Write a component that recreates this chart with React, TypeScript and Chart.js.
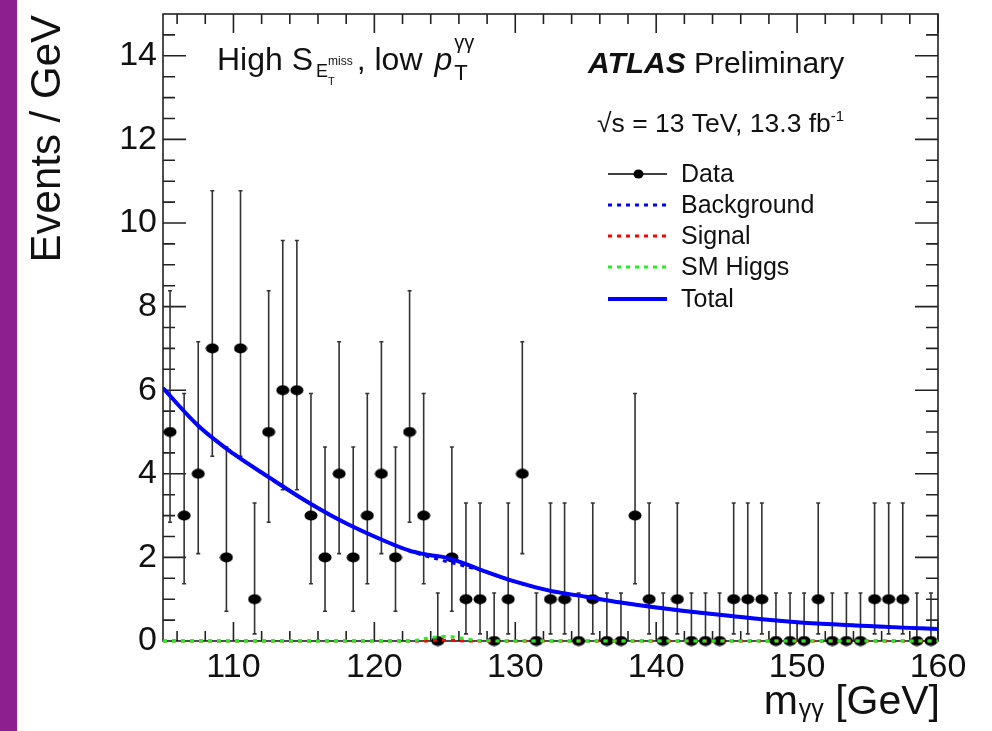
import React, { useEffect, useRef } from "react";
import { Chart, registerables } from "chart.js";

Chart.register(...registerables);

const FONT = '"Liberation Sans", Arial, Helvetica, sans-serif';

// ---- data ----
const binCenters = [
  105.5, 106.5, 107.5, 108.5, 109.5, 110.5, 111.5, 112.5, 113.5, 114.5,
  115.5, 116.5, 117.5, 118.5, 119.5, 120.5, 121.5, 122.5, 123.5, 124.5,
  125.5, 126.5, 127.5, 128.5, 129.5, 130.5, 131.5, 132.5, 133.5, 134.5,
  135.5, 136.5, 137.5, 138.5, 139.5, 140.5, 141.5, 142.5, 143.5, 144.5,
  145.5, 146.5, 147.5, 148.5, 149.5, 150.5, 151.5, 152.5, 153.5, 154.5,
  155.5, 156.5, 157.5, 158.5, 159.5,
];
const counts = [
  5, 3, 4, 7, 2, 7, 1, 5, 6, 6,
  3, 2, 4, 2, 3, 4, 2, 5, 3, 0,
  2, 1, 1, 0, 1, 4, 0, 1, 1, 0,
  1, 0, 0, 3, 1, 0, 1, 0, 0, 0,
  1, 1, 1, 0, 0, 0, 1, 0, 0, 0,
  1, 1, 1, 0, 0,
];
// error bar ends by event count (0..7)
const poissonLow = [0, 0.17, 0.71, 1.37, 2.09, 2.84, 3.62, 4.42];
const poissonHigh = [1.15, 3.3, 4.64, 5.92, 7.16, 8.38, 9.58, 10.77];

const curveX = [
  105, 107.5, 110, 112.5, 115, 117.5, 120, 122.5, 123.5, 124, 124.5, 125,
  125.5, 126, 126.5, 127.5, 130, 132.5, 135, 137.5, 140, 142.5, 145, 147.5,
  150, 152.5, 155, 157.5, 160,
];
const backgroundY = [
  6.05, 5.15, 4.48, 3.92, 3.38, 2.9, 2.5, 2.15, 2.05, 2.0, 1.96, 1.91,
  1.87, 1.83, 1.78, 1.7, 1.42, 1.2, 1.06, 0.92, 0.8, 0.7, 0.61, 0.52,
  0.45, 0.4, 0.36, 0.32, 0.29,
];
const signalY = [
  0, 0, 0, 0, 0, 0, 0, 0, 0, 0.01, 0.02, 0.02,
  0.02, 0.01, 0, 0, 0, 0, 0, 0, 0, 0, 0, 0,
  0, 0, 0, 0, 0,
];
const higgsY = [
  0, 0, 0, 0, 0, 0, 0, 0, 0.05, 0.08, 0.1, 0.11,
  0.1, 0.08, 0.05, 0.01, 0, 0, 0, 0, 0, 0, 0, 0,
  0, 0, 0, 0, 0,
];
const totalY = [
  6.05, 5.15, 4.48, 3.92, 3.38, 2.9, 2.5, 2.16, 2.08, 2.05, 2.03, 2.0,
  1.96, 1.9, 1.84, 1.71, 1.42, 1.2, 1.06, 0.92, 0.8, 0.7, 0.61, 0.52,
  0.45, 0.4, 0.36, 0.32, 0.29,
];

const xTicks = [110, 120, 130, 140, 150, 160];
const yTicks = [0, 2, 4, 6, 8, 10, 12, 14];
const legendLabels = ["Data", "Background", "Signal", "SM Higgs", "Total"];

const BLUE = "#0000ff";
const RED = "#ff0000";
const GREEN = "#22ee22";

type Part = {
  t: string;
  size: number;
  dy?: number;
  dx?: number;
  style?: string;
  weight?: string;
  stack?: boolean;
};

function drawRich(ctx: CanvasRenderingContext2D, parts: Part[], x: number, y: number, draw = true) {
  let cx = x;
  let stackW = 0;
  for (const p of parts) {
    ctx.font = `${p.style || "normal"} ${p.weight || "normal"} ${p.size}px ${FONT}`;
    cx += p.dx || 0;
    if (draw) ctx.fillText(p.t, cx, y + (p.dy || 0));
    const w = ctx.measureText(p.t).width;
    if (p.stack) {
      stackW = Math.max(stackW, w);
    } else {
      cx += Math.max(w, stackW);
      stackW = 0;
    }
  }
  return cx - x;
}

function makeMarker(w: number, h: number) {
  const c = document.createElement("canvas");
  c.width = w;
  c.height = h;
  const g = c.getContext("2d")!;
  g.fillStyle = "#000";
  g.beginPath();
  g.ellipse(w / 2, h / 2, w / 2 - 0.5, h / 2 - 0.5, 0, 0, Math.PI * 2);
  g.fill();
  return c;
}

const rootPlugin = {
  id: "rootStyle",
  beforeDatasetsDraw(chart: any) {
    const ctx: CanvasRenderingContext2D = chart.ctx;
    const xs = chart.scales.x;
    const ys = chart.scales.y;
    const a = chart.chartArea;
    ctx.save();
    // frame
    ctx.strokeStyle = "#222";
    ctx.lineWidth = 1.6;
    ctx.strokeRect(a.left, a.top, a.right - a.left, a.bottom - a.top);
    // ticks
    ctx.beginPath();
    for (let v = 106; v <= 160; v += 2) {
      const px = xs.getPixelForValue(v);
      const L = xTicks.includes(v) ? 19 : 10;
      ctx.moveTo(px, a.bottom);
      ctx.lineTo(px, a.bottom - L);
      ctx.moveTo(px, a.top);
      ctx.lineTo(px, a.top + L);
    }
    for (let v = 0.5; v < 15; v += 0.5) {
      const py = ys.getPixelForValue(v);
      const L = yTicks.includes(v) ? 23 : 12;
      ctx.moveTo(a.left, py);
      ctx.lineTo(a.left + L, py);
      ctx.moveTo(a.right, py);
      ctx.lineTo(a.right - L, py);
    }
    ctx.stroke();

    // error bars
    ctx.strokeStyle = "#333";
    ctx.lineWidth = 1.6;
    binCenters.forEach((bx, i) => {
      const n = counts[i];
      const px = xs.getPixelForValue(bx);
      const y1 = ys.getPixelForValue(poissonLow[n]);
      const y2 = ys.getPixelForValue(poissonHigh[n]);
      ctx.beginPath();
      ctx.moveTo(px, y1);
      ctx.lineTo(px, y2);
      ctx.moveTo(px - 2, y2);
      ctx.lineTo(px + 2, y2);
      if (n > 0) {
        ctx.moveTo(px - 2, y1);
        ctx.lineTo(px + 2, y1);
      }
      ctx.stroke();
    });
    ctx.restore();
  },
  afterDraw(chart: any) {
    const ctx: CanvasRenderingContext2D = chart.ctx;
    ctx.save();
    ctx.fillStyle = "#111";
    ctx.textAlign = "left";
    ctx.textBaseline = "alphabetic";

    // y title
    ctx.save();
    ctx.translate(60, 15);
    ctx.rotate(-Math.PI / 2);
    ctx.textAlign = "right";
    ctx.font = `normal 42px ${FONT}`;
    ctx.fillText("Events / GeV", 0, 0);
    ctx.restore();

    // x title (right aligned)
    const xt: Part[] = [
      { t: "m", size: 41 },
      { t: "γγ", size: 25, dy: 3, dx: 1 },
      { t: " [GeV]", size: 41 },
    ];
    const w = drawRich(ctx, xt, 0, 0, false);
    drawRich(ctx, xt, 940 - w, 714);

    // category label
    drawRich(
      ctx,
      [
        { t: "High S", size: 32 },
        { t: "E", size: 18, dy: 7, dx: 3 },
        { t: "miss", size: 12, dy: -5, stack: true },
        { t: "T", size: 11, dy: 15 },
        { t: ", low ", size: 32, dx: 4 },
        { t: "p", size: 32, style: "italic", dx: 3 },
        { t: "γγ", size: 20, dy: -21, dx: 2, stack: true },
        { t: "T", size: 22, dy: 10 },
      ],
      217,
      70
    );

    // ATLAS label
    drawRich(
      ctx,
      [
        { t: "ATLAS", size: 30, style: "italic", weight: "bold" },
        { t: " Preliminary", size: 30 },
      ],
      588,
      73
    );
    drawRich(
      ctx,
      [
        { t: "√s = 13 TeV, 13.3 fb", size: 26.5 },
        { t: "-1", size: 15, dy: -11 },
      ],
      597,
      132
    );

    // legend
    const baseY = [182, 213, 244, 275, 307];
    const lx1 = 608;
    const lx2 = 667;
    legendLabels.forEach((lab, i) => {
      const ly = baseY[i] - 8;
      ctx.save();
      ctx.beginPath();
      if (i === 0) {
        ctx.strokeStyle = "#000";
        ctx.lineWidth = 1.6;
        ctx.moveTo(lx1, ly);
        ctx.lineTo(lx2, ly);
        ctx.stroke();
        ctx.fillStyle = "#000";
        ctx.beginPath();
        ctx.ellipse((lx1 + lx2) / 2 + 1, ly, 5, 4.5, 0, 0, Math.PI * 2);
        ctx.fill();
      } else if (i === 4) {
        ctx.strokeStyle = BLUE;
        ctx.lineWidth = 4;
        ctx.moveTo(lx1, ly);
        ctx.lineTo(lx2, ly);
        ctx.stroke();
      } else {
        ctx.strokeStyle = i === 1 ? BLUE : i === 2 ? RED : GREEN;
        ctx.lineWidth = 3;
        ctx.setLineDash([4, 5]);
        ctx.moveTo(lx1, ly);
        ctx.lineTo(lx2, ly);
        ctx.stroke();
      }
      ctx.restore();
      ctx.fillStyle = "#111";
      ctx.font = `normal 25px ${FONT}`;
      ctx.fillText(lab, 681, baseY[i]);
    });
    ctx.restore();
  },
};

export default function App() {
  const ref = useRef<HTMLCanvasElement | null>(null);

  useEffect(() => {
    if (!ref.current) return;
    const marker = makeMarker(14, 11);
    const pts = (ys: number[]) => curveX.map((x, i) => ({ x, y: ys[i] }));
    const chart = new Chart(ref.current, {
      type: "line",
      data: {
        datasets: [
          {
            label: "Data",
            data: binCenters.map((x, i) => ({ x, y: counts[i] })),
            showLine: false,
            pointStyle: marker as any,
            pointRadius: 6,
            pointHoverRadius: 6,
            clip: false as any,
            order: 10,
          },
          {
            label: "Background",
            data: pts(backgroundY),
            borderColor: BLUE,
            borderWidth: 3,
            borderDash: [4, 5],
            pointRadius: 0,
            cubicInterpolationMode: "monotone",
            order: 4,
          },
          {
            label: "Signal",
            data: pts(signalY),
            borderColor: RED,
            borderWidth: 3,
            borderDash: [4, 5],
            pointRadius: 0,
            cubicInterpolationMode: "monotone",
            clip: 4 as any,
            order: 3,
          },
          {
            label: "SM Higgs",
            data: pts(higgsY),
            borderColor: GREEN,
            borderWidth: 3,
            borderDash: [4, 5],
            pointRadius: 0,
            cubicInterpolationMode: "monotone",
            clip: 4 as any,
            order: 2,
          },
          {
            label: "Total",
            data: pts(totalY),
            borderColor: BLUE,
            borderWidth: 4,
            pointRadius: 0,
            cubicInterpolationMode: "monotone",
            order: 1,
          },
        ],
      },
      options: {
        responsive: false,
        animation: false,
        devicePixelRatio: 1,
        events: [],
        layout: { padding: { left: 0, top: 14, right: 54, bottom: 0 } },
        plugins: {
          legend: { display: false },
          tooltip: { enabled: false },
          title: { display: false },
        },
        scales: {
          x: {
            type: "linear",
            min: 105,
            max: 160,
            grid: { display: false, drawTicks: false },
            border: { display: false },
            afterBuildTicks: (s: any) => {
              s.ticks = xTicks.map((v) => ({ value: v }));
            },
            afterFit: (s: any) => {
              s.height = 90;
              s.paddingLeft = 0;
              s.paddingRight = 0;
            },
            ticks: {
              font: { family: FONT, size: 34 },
              color: "#111",
              padding: 6,
              maxRotation: 0,
              autoSkip: false,
            },
          },
          y: {
            type: "linear",
            min: 0,
            max: 15,
            grid: { display: false, drawTicks: false },
            border: { display: false },
            afterBuildTicks: (s: any) => {
              s.ticks = yTicks.map((v) => ({ value: v }));
            },
            afterFit: (s: any) => {
              s.width = 163;
              s.paddingTop = 0;
              s.paddingBottom = 0;
            },
            ticks: {
              font: { family: FONT, size: 34 },
              color: "#111",
              padding: 6,
              autoSkip: false,
            },
          },
        },
      },
      plugins: [rootPlugin],
    });
    return () => chart.destroy();
  }, []);

  return (
    <div
      style={{
        position: "fixed",
        left: 0,
        top: 0,
        width: 992,
        height: 731,
        background: "#fff",
        overflow: "hidden",
      }}
    >
      <canvas
        ref={ref}
        width={992}
        height={731}
        style={{ position: "absolute", left: 0, top: 0, width: 992, height: 731 }}
      />
      <div
        style={{
          position: "absolute",
          left: 0,
          top: 0,
          width: 17,
          height: 731,
          background: "#8e1f8f",
        }}
      />
    </div>
  );
}
